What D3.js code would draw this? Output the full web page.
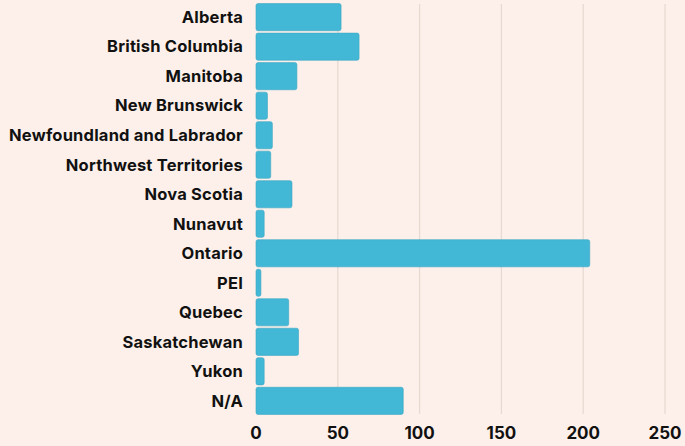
<!DOCTYPE html>
<html>
<head>
<meta charset="utf-8">
<script src="https://cdn.jsdelivr.net/npm/d3@7"></script>
<style>
  html, body { margin: 0; padding: 0; background: #fdf0ea; }
  svg { display: block; }
  .label { font-family: Inter, "Open Sans", sans-serif; font-weight: 700; fill: #111; }
</style>
</head>
<body>
<script>
var provinces = ["Alberta", "British Columbia", "Manitoba", "New Brunswick",
  "Newfoundland and Labrador", "Northwest Territories", "Nova Scotia", "Nunavut",
  "Ontario", "PEI", "Quebec", "Saskatchewan", "Yukon", "N/A"];
var counts = [52, 63, 25, 7, 10, 9, 22, 5, 204, 3, 20, 26, 5, 90];
var ticks = [0, 50, 100, 150, 200, 250];

var width = 685, height = 446;

var svg = d3.select("body").append("svg")
    .attr("width", width)
    .attr("height", height);

var x = d3.scaleLinear().domain([0, 250]).range([256, 665]);
var y = d3.scaleBand().domain(provinces).range([3, 415]).paddingInner(0.08).paddingOuter(0.02);

// grid lines
svg.append("g").selectAll("line")
    .data(ticks.slice(1))
    .enter().append("line")
    .attr("x1", function(d) { return x(d); })
    .attr("x2", function(d) { return x(d); })
    .attr("y1", 4)
    .attr("y2", 414)
    .attr("stroke", "#e6dad3")
    .attr("stroke-width", 1.3);

// bars
svg.append("g").selectAll("rect")
    .data(provinces)
    .enter().append("rect")
    .attr("x", x(0))
    .attr("y", function(d) { return y(d); })
    .attr("width", function(d, i) { return x(counts[i]) - x(0); })
    .attr("height", y.bandwidth())
    .attr("rx", 2)
    .attr("fill", "#42b8d6")
    .attr("stroke", "#3aa6c2")
    .attr("stroke-width", 0.6);

// category labels
svg.append("g").selectAll("text")
    .data(provinces)
    .enter().append("text")
    .attr("class", "label")
    .attr("x", 243)
    .attr("y", function(d) { return y(d) + y.bandwidth() / 2; })
    .attr("dy", "0.35em")
    .attr("text-anchor", "end")
    .style("font-size", "16.5px")
    .style("letter-spacing", "0.2px")
    .text(function(d) { return d; });

// x tick labels
svg.append("g").selectAll("text")
    .data(ticks)
    .enter().append("text")
    .attr("class", "label")
    .attr("x", function(d) { return x(d); })
    .attr("y", 439)
    .attr("text-anchor", "middle")
    .style("font-size", "17px")
    .text(function(d) { return d; });
</script>
</body>
</html>
